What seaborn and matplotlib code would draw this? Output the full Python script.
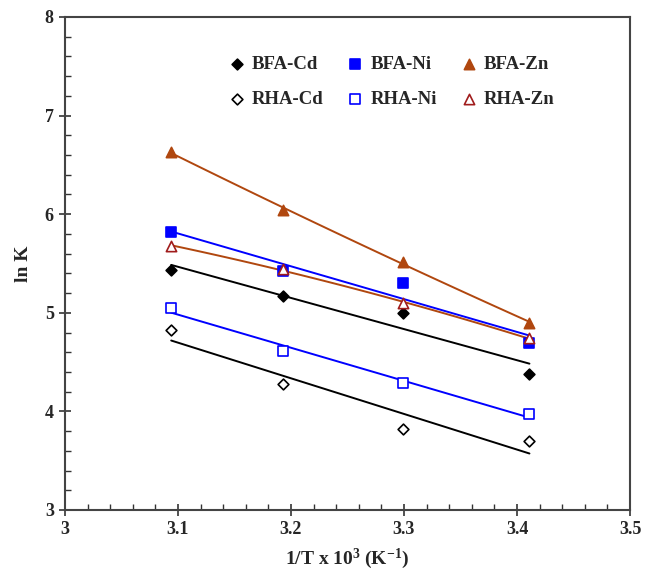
import matplotlib
matplotlib.use('Agg')
import matplotlib.pyplot as plt
from matplotlib.ticker import MultipleLocator
import seaborn as sns
import pandas as pd

# 데이터
inv_t = [3.094, 3.193, 3.299, 3.411]
bfa_cd = [5.43, 5.17, 5.00, 4.38]
bfa_ni = [5.82, 5.42, 5.30, 4.69]
bfa_zn = [6.63, 6.04, 5.52, 4.90]
rha_cd = [4.83, 4.28, 3.82, 3.70]
rha_ni = [5.05, 4.61, 4.29, 3.97]
rha_zn = [5.68, 5.44, 5.10, 4.74]

series = {'BFA-Cd': bfa_cd, 'RHA-Cd': rha_cd, 'BFA-Ni': bfa_ni,
          'RHA-Ni': rha_ni, 'BFA-Zn': bfa_zn, 'RHA-Zn': rha_zn}
df = pd.DataFrame([(k, x, y) for k, v in series.items() for x, y in zip(inv_t, v)],
                  columns=['series', 'x', 'lnK'])

sns.set_style('ticks')
plt.rcParams['font.family'] = ['Liberation Serif', 'DejaVu Serif']
plt.rcParams['font.weight'] = 'bold'
plt.rcParams['mathtext.fontset'] = 'custom'
plt.rcParams['mathtext.rm'] = 'Liberation Serif:bold'
plt.rcParams['mathtext.bf'] = 'Liberation Serif:bold'
plt.rcParams['mathtext.it'] = 'Liberation Serif:bold'

# 스타일: (선 색, 마커, 면 색, 테두리 색, 회귀 차수)
brown = '#b0470f'
style = {
    'BFA-Cd': ('black', 'D', 'black', 'black', 1),
    'RHA-Cd': ('black', 'D', 'white', 'black', 1),
    'BFA-Ni': ('#0000ff', 's', '#0000ff', '#0000ff', 1),
    'RHA-Ni': ('#0000ff', 's', 'white', '#0000ff', 1),
    'BFA-Zn': (brown, '^', brown, brown, 2),
    'RHA-Zn': (brown, '^', 'white', '#a01c1c', 2),
}
msize = {'D': 30, 's': 55, '^': 55}

fig = plt.figure(figsize=(6.53, 5.70), dpi=100)
ax = fig.add_axes([0.0995, 0.1053, 0.8653, 0.8649])

# 회귀선
for name in series:
    lc, mk, fc, ec, order = style[name]
    sub = df[df['series'] == name]
    sns.regplot(data=sub, x='x', y='lnK', order=order, ci=None, scatter=False,
                line_kws={'color': lc, 'lw': 1.4}, ax=ax)
# 점
for name in series:
    lc, mk, fc, ec, order = style[name]
    sub = df[df['series'] == name]
    sns.scatterplot(data=sub, x='x', y='lnK', marker=mk, s=msize[mk], color=fc,
                    edgecolor=ec, linewidth=1.2, label=name, ax=ax, zorder=3)

ax.set_xlim(3, 3.5)
ax.set_ylim(3, 8)
ax.xaxis.set_minor_locator(MultipleLocator(0.02))
ax.yaxis.set_major_locator(MultipleLocator(1))
ax.yaxis.set_minor_locator(MultipleLocator(0.2))
ax.set_xticks([3, 3.1, 3.2, 3.3, 3.4, 3.5])
ax.set_xticklabels(['3', '3.1', '3.2', '3.3', '3.4', '3.5'])
ax.tick_params(which='major', direction='inout', length=8, width=1.2,
               labelsize=13, pad=4, color='#333333')
ax.tick_params(which='minor', direction='in', length=4, width=1.0, color='#333333')
for sp in ax.spines.values():
    sp.set_linewidth(1.5)
    sp.set_color('#444444')
for lab in ax.get_xticklabels() + ax.get_yticklabels():
    lab.set_fontweight('bold')

ax.set_xlabel('1/T x 10$^{3}$ (K$^{-1}$)', fontsize=14, fontweight='bold', labelpad=6)
ax.set_ylabel('ln K', fontsize=14, fontweight='bold', labelpad=9)

handles, labels = ax.get_legend_handles_labels()
ax.legend(handles, labels, ncol=3, loc='upper left', bbox_to_anchor=(0.274, 0.94),
          frameon=False, borderpad=0, handlelength=0.8, handletextpad=0.4,
          columnspacing=1.3, labelspacing=0.95,
          prop={'family': 'Liberation Serif', 'weight': 'bold', 'size': 13.5})

fig.savefig('out.png', dpi=100)
